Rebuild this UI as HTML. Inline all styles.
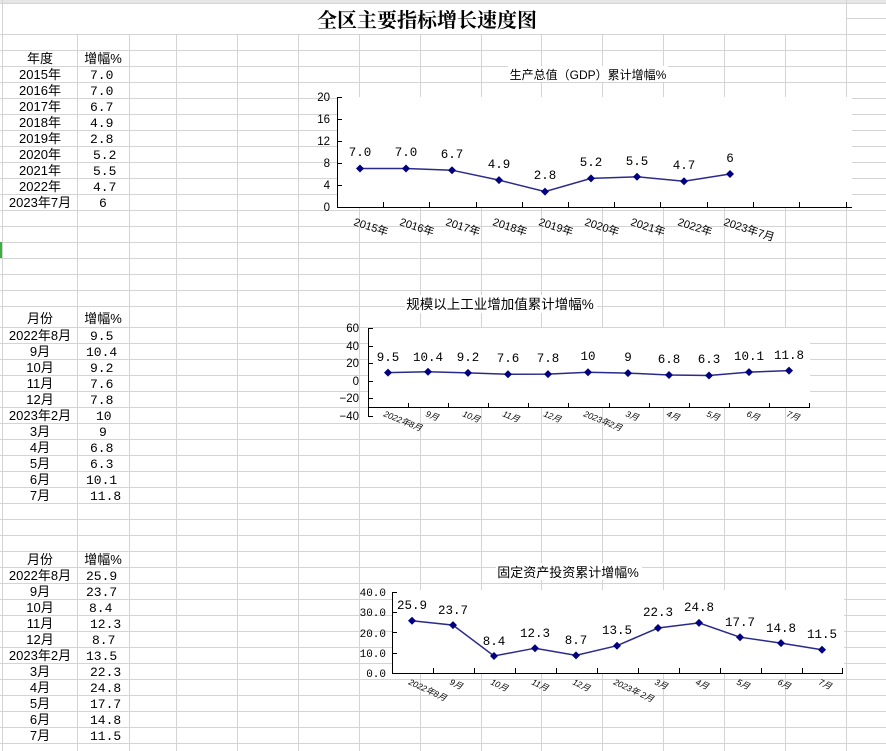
<!DOCTYPE html>
<html><head><meta charset="utf-8"><style>
html,body{margin:0;padding:0;background:#fff;}
svg{display:block;}
.t{font-family:"Liberation Sans","Noto Sans CJK SC",sans-serif;font-size:13px;fill:#000;}
.m{font-family:"Liberation Mono","Noto Sans CJK SC",monospace;font-size:13px;fill:#000;}
.dl{font-family:"Liberation Mono","Noto Sans CJK SC",monospace;font-size:12.5px;fill:#000;}
.ax{font-family:"Liberation Sans",sans-serif;font-size:11.5px;fill:#000;}
.axm{font-family:"Liberation Mono",monospace;font-size:11px;fill:#000;}
.xl{font-family:"Liberation Sans","Noto Sans CJK SC",sans-serif;font-size:11px;fill:#000;}
.xs{font-family:"Liberation Sans","Noto Sans CJK SC",sans-serif;font-size:8.5px;font-style:italic;fill:#000;}
.ct{font-family:"Liberation Sans","Noto Sans CJK SC",sans-serif;fill:#000;}
</style></head><body>
<svg width="886" height="751" viewBox="0 0 886 751" xmlns="http://www.w3.org/2000/svg">
<rect width="886" height="751" fill="#fff"/>
<!-- header strip -->
<rect x="0" y="0" width="886" height="3" fill="#e6e6e6"/>
<g stroke="#d4d4d4" stroke-width="1" shape-rendering="crispEdges">
<!-- vertical gridlines (not through title row) -->
<line x1="2.5" y1="0" x2="2.5" y2="751"/>
<line x1="77.5" y1="34" x2="77.5" y2="751"/>
<line x1="129.5" y1="34" x2="129.5" y2="751"/>
<line x1="176.5" y1="34" x2="176.5" y2="751"/>
<line x1="237.5" y1="34" x2="237.5" y2="751"/>
<line x1="298.5" y1="34" x2="298.5" y2="751"/>
<line x1="359.5" y1="34" x2="359.5" y2="751"/>
<line x1="420.5" y1="34" x2="420.5" y2="751"/>
<line x1="481.5" y1="34" x2="481.5" y2="751"/>
<line x1="541.5" y1="34" x2="541.5" y2="751"/>
<line x1="602.5" y1="34" x2="602.5" y2="751"/>
<line x1="663.5" y1="34" x2="663.5" y2="751"/>
<line x1="724.5" y1="34" x2="724.5" y2="751"/>
<line x1="785.5" y1="34" x2="785.5" y2="751"/>
<line x1="846.5" y1="0" x2="846.5" y2="751"/>
<line x1="846" y1="18.5" x2="886" y2="18.5"/>
<!-- horizontal gridlines -->
<line x1="0" y1="3.5" x2="886" y2="3.5"/>
<line x1="0" y1="34.5" x2="886" y2="34.5"/>
<line x1="0" y1="50.5" x2="886" y2="50.5"/><line x1="0" y1="66.5" x2="886" y2="66.5"/>
<line x1="0" y1="82.5" x2="886" y2="82.5"/><line x1="0" y1="98.5" x2="886" y2="98.5"/>
<line x1="0" y1="114.5" x2="886" y2="114.5"/><line x1="0" y1="130.5" x2="886" y2="130.5"/>
<line x1="0" y1="146.5" x2="886" y2="146.5"/><line x1="0" y1="162.5" x2="886" y2="162.5"/>
<line x1="0" y1="178.5" x2="886" y2="178.5"/><line x1="0" y1="194.5" x2="886" y2="194.5"/>
<line x1="0" y1="210.5" x2="886" y2="210.5"/><line x1="0" y1="226.5" x2="886" y2="226.5"/>
<line x1="0" y1="242.5" x2="886" y2="242.5"/><line x1="0" y1="258.5" x2="886" y2="258.5"/>
<line x1="0" y1="274.5" x2="886" y2="274.5"/><line x1="0" y1="290.5" x2="886" y2="290.5"/>
<line x1="0" y1="306.5" x2="886" y2="306.5"/><line x1="0" y1="327.5" x2="886" y2="327.5"/>
<line x1="0" y1="343.5" x2="886" y2="343.5"/><line x1="0" y1="359.5" x2="886" y2="359.5"/>
<line x1="0" y1="375.5" x2="886" y2="375.5"/><line x1="0" y1="391.5" x2="886" y2="391.5"/>
<line x1="0" y1="407.5" x2="886" y2="407.5"/><line x1="0" y1="423.5" x2="886" y2="423.5"/>
<line x1="0" y1="439.5" x2="886" y2="439.5"/><line x1="0" y1="455.5" x2="886" y2="455.5"/>
<line x1="0" y1="471.5" x2="886" y2="471.5"/><line x1="0" y1="487.5" x2="886" y2="487.5"/>
<line x1="0" y1="503.5" x2="886" y2="503.5"/><line x1="0" y1="519.5" x2="886" y2="519.5"/>
<line x1="0" y1="535.5" x2="886" y2="535.5"/><line x1="0" y1="551.5" x2="886" y2="551.5"/>
<line x1="0" y1="567.5" x2="886" y2="567.5"/><line x1="0" y1="583.5" x2="886" y2="583.5"/>
<line x1="0" y1="599.5" x2="886" y2="599.5"/><line x1="0" y1="615.5" x2="886" y2="615.5"/>
<line x1="0" y1="631.5" x2="886" y2="631.5"/><line x1="0" y1="647.5" x2="886" y2="647.5"/>
<line x1="0" y1="663.5" x2="886" y2="663.5"/><line x1="0" y1="679.5" x2="886" y2="679.5"/>
<line x1="0" y1="695.5" x2="886" y2="695.5"/><line x1="0" y1="711.5" x2="886" y2="711.5"/>
<line x1="0" y1="727.5" x2="886" y2="727.5"/><line x1="0" y1="743.5" x2="886" y2="743.5"/>
</g>
<rect x="0" y="242" width="2" height="16" fill="#3fae3f"/>
<!-- main title -->
<text x="427" y="27" text-anchor="middle" style="font-family:'Noto Serif CJK SC','Liberation Serif',serif;font-size:20px;font-weight:bold;">全区主要指标增长速度图</text>

<!-- table 1 -->
<g class="t" text-anchor="middle">
<text x="40" y="63">年度</text><text x="103" y="63">增幅%</text>
<text x="40" y="79">2015年</text><text x="40" y="95">2016年</text><text x="40" y="111">2017年</text>
<text x="40" y="127">2018年</text><text x="40" y="143">2019年</text><text x="40" y="159">2020年</text>
<text x="40" y="175">2021年</text><text x="40" y="191">2022年</text><text x="40" y="207">2023年7月</text>
</g>
<g class="m">
<text x="90" y="79">7.0</text><text x="90" y="95">7.0</text><text x="90" y="111">6.7</text>
<text x="90" y="127">4.9</text><text x="90" y="143">2.8</text><text x="93" y="159">5.2</text>
<text x="93" y="175">5.5</text><text x="93" y="191">4.7</text><text x="99" y="207">6</text>
</g>
<!-- table 2 -->
<g class="t" text-anchor="middle">
<text x="40" y="323">月份</text><text x="103" y="323">增幅%</text>
<text x="40" y="340">2022年8月</text><text x="40" y="356">9月</text><text x="40" y="372">10月</text>
<text x="40" y="388">11月</text><text x="40" y="404">12月</text><text x="40" y="420">2023年2月</text>
<text x="40" y="436">3月</text><text x="40" y="452">4月</text><text x="40" y="468">5月</text>
<text x="40" y="484">6月</text><text x="40" y="500">7月</text>
</g>
<g class="m">
<text x="90" y="340">9.5</text><text x="86" y="356">10.4</text><text x="90" y="372">9.2</text>
<text x="90" y="388">7.6</text><text x="90" y="404">7.8</text><text x="96" y="420">10</text>
<text x="99" y="436">9</text><text x="90" y="452">6.8</text><text x="90" y="468">6.3</text>
<text x="86" y="484">10.1</text><text x="90" y="500">11.8</text>
</g>
<!-- table 3 -->
<g class="t" text-anchor="middle">
<text x="40" y="564">月份</text><text x="103" y="564">增幅%</text>
<text x="40" y="580">2022年8月</text><text x="40" y="596">9月</text><text x="40" y="612">10月</text>
<text x="40" y="628">11月</text><text x="40" y="644">12月</text><text x="40" y="660">2023年2月</text>
<text x="40" y="676">3月</text><text x="40" y="692">4月</text><text x="40" y="708">5月</text>
<text x="40" y="724">6月</text><text x="40" y="740">7月</text>
</g>
<g class="m">
<text x="86" y="580">25.9</text><text x="86" y="596">23.7</text><text x="89" y="612">8.4</text>
<text x="90" y="628">12.3</text><text x="92" y="644">8.7</text><text x="86" y="660">13.5</text>
<text x="90" y="676">22.3</text><text x="90" y="692">24.8</text><text x="90" y="708">17.7</text>
<text x="90" y="724">14.8</text><text x="90" y="740">11.5</text>
</g>

<!-- ===== Chart 1 ===== -->
<rect x="337" y="97" width="515" height="110" fill="#fff"/>
<rect x="508" y="66" width="160" height="16" fill="#fff"/>
<text class="ct" x="588" y="79" text-anchor="middle" font-size="12">生产总值（GDP）累计增幅%</text>
<g stroke="#000" stroke-width="1.2" shape-rendering="crispEdges">
<line x1="337.5" y1="97" x2="337.5" y2="207"/>
<line x1="337" y1="207.5" x2="852" y2="207.5"/>
<line x1="337" y1="97.5" x2="342" y2="97.5"/><line x1="337" y1="119.5" x2="342" y2="119.5"/>
<line x1="337" y1="141.5" x2="342" y2="141.5"/><line x1="337" y1="163.5" x2="342" y2="163.5"/>
<line x1="337" y1="185.5" x2="342" y2="185.5"/>
<line x1="383.5" y1="202" x2="383.5" y2="207"/><line x1="429.5" y1="202" x2="429.5" y2="207"/>
<line x1="476.5" y1="202" x2="476.5" y2="207"/><line x1="522.5" y1="202" x2="522.5" y2="207"/>
<line x1="568.5" y1="202" x2="568.5" y2="207"/><line x1="614.5" y1="202" x2="614.5" y2="207"/>
<line x1="660.5" y1="202" x2="660.5" y2="207"/><line x1="707.5" y1="202" x2="707.5" y2="207"/>
<line x1="753.5" y1="202" x2="753.5" y2="207"/><line x1="799.5" y1="202" x2="799.5" y2="207"/>
<line x1="846.5" y1="202" x2="846.5" y2="207"/>
</g>
<g class="ax" text-anchor="end">
<text x="330" y="101">20</text><text x="330" y="123">16</text><text x="330" y="145">12</text>
<text x="330" y="167">8</text><text x="330" y="189">4</text><text x="330" y="211">0</text>
</g>
<polyline fill="none" stroke="#2a2a8c" stroke-width="1.5" points="360,168.5 406,168.5 452,170.2 499,180.1 545,191.6 591,178.4 637,176.8 684,181.2 730,174"/>
<g fill="#000080">
<path d="M360 164.5l4 4-4 4-4-4z"/><path d="M406 164.5l4 4-4 4-4-4z"/><path d="M452 166.2l4 4-4 4-4-4z"/>
<path d="M499 176.1l4 4-4 4-4-4z"/><path d="M545 187.6l4 4-4 4-4-4z"/><path d="M591 174.4l4 4-4 4-4-4z"/>
<path d="M637 172.8l4 4-4 4-4-4z"/><path d="M684 177.2l4 4-4 4-4-4z"/><path d="M730 170l4 4-4 4-4-4z"/>
</g>
<g class="dl" text-anchor="middle">
<text x="360" y="156">7.0</text><text x="406" y="156">7.0</text><text x="452" y="158">6.7</text>
<text x="499" y="168">4.9</text><text x="545" y="179">2.8</text><text x="591" y="166">5.2</text>
<text x="637" y="165">5.5</text><text x="684" y="169">4.7</text><text x="730" y="162">6</text>
</g>
<g class="xl">
<text transform="translate(353,225) rotate(18)">2015年</text>
<text transform="translate(399,225) rotate(18)">2016年</text>
<text transform="translate(445,225) rotate(18)">2017年</text>
<text transform="translate(492,225) rotate(18)">2018年</text>
<text transform="translate(538,225) rotate(18)">2019年</text>
<text transform="translate(584,225) rotate(18)">2020年</text>
<text transform="translate(630,225) rotate(18)">2021年</text>
<text transform="translate(677,225) rotate(18)">2022年</text>
<text transform="translate(723,225) rotate(18)">2023年7月</text>
</g>

<!-- ===== Chart 2 ===== -->
<rect x="368" y="328" width="442" height="79" fill="#fff"/>
<rect x="405" y="295" width="192" height="18" fill="#fff"/>
<text class="ct" x="500" y="309" text-anchor="middle" font-size="13.5">规模以上工业增加值累计增幅%</text>
<g stroke="#000" stroke-width="1.2" shape-rendering="crispEdges">
<line x1="368.5" y1="328" x2="368.5" y2="416"/>
<line x1="368" y1="407.5" x2="810" y2="407.5"/>
<line x1="368" y1="328.5" x2="373" y2="328.5"/><line x1="368" y1="346.5" x2="373" y2="346.5"/>
<line x1="368" y1="363.5" x2="373" y2="363.5"/><line x1="368" y1="381.5" x2="373" y2="381.5"/>
<line x1="368" y1="398.5" x2="373" y2="398.5"/><line x1="368" y1="416.5" x2="373" y2="416.5"/>
<line x1="408.5" y1="403" x2="408.5" y2="407"/><line x1="448.5" y1="403" x2="448.5" y2="407"/>
<line x1="488.5" y1="403" x2="488.5" y2="407"/><line x1="528.5" y1="403" x2="528.5" y2="407"/>
<line x1="568.5" y1="403" x2="568.5" y2="407"/><line x1="609.5" y1="403" x2="609.5" y2="407"/>
<line x1="649.5" y1="403" x2="649.5" y2="407"/><line x1="689.5" y1="403" x2="689.5" y2="407"/>
<line x1="729.5" y1="403" x2="729.5" y2="407"/><line x1="769.5" y1="403" x2="769.5" y2="407"/>
<line x1="809.5" y1="403" x2="809.5" y2="407"/>
</g>
<g class="ax" text-anchor="end">
<text x="359" y="332">60</text><text x="359" y="350">40</text><text x="359" y="367">20</text>
<text x="359" y="385">0</text><text x="359" y="402">−20</text><text x="359" y="420">−40</text>
</g>
<polyline fill="none" stroke="#2a2a8c" stroke-width="1.5" points="388,372.6 428,371.8 468,372.9 508,374.3 548,374.1 588,372.2 628,373.1 669,375 709,375.5 749,372.1 789,370.6"/>
<g fill="#000080">
<path d="M388 368.6l4 4-4 4-4-4z"/><path d="M428 367.8l4 4-4 4-4-4z"/><path d="M468 368.9l4 4-4 4-4-4z"/>
<path d="M508 370.3l4 4-4 4-4-4z"/><path d="M548 370.1l4 4-4 4-4-4z"/><path d="M588 368.2l4 4-4 4-4-4z"/>
<path d="M628 369.1l4 4-4 4-4-4z"/><path d="M669 371l4 4-4 4-4-4z"/><path d="M709 371.5l4 4-4 4-4-4z"/>
<path d="M749 368.1l4 4-4 4-4-4z"/><path d="M789 366.6l4 4-4 4-4-4z"/>
</g>
<g class="dl" text-anchor="middle">
<text x="388" y="361">9.5</text><text x="428" y="361">10.4</text><text x="468" y="361">9.2</text>
<text x="508" y="362">7.6</text><text x="548" y="362">7.8</text><text x="588" y="360">10</text>
<text x="628" y="361">9</text><text x="669" y="363">6.8</text><text x="709" y="363">6.3</text>
<text x="749" y="360">10.1</text><text x="789" y="359">11.8</text>
</g>
<g class="xs">
<text transform="translate(383,416) rotate(22)">2022年8月</text>
<text transform="translate(425,416) rotate(22)">9月</text>
<text transform="translate(462,416) rotate(22)">10月</text>
<text transform="translate(502,416) rotate(22)">11月</text>
<text transform="translate(543,416) rotate(22)">12月</text>
<text transform="translate(583,416) rotate(22)">2023年2月</text>
<text transform="translate(625,416) rotate(22)">3月</text>
<text transform="translate(666,416) rotate(22)">4月</text>
<text transform="translate(706,416) rotate(22)">5月</text>
<text transform="translate(746,416) rotate(22)">6月</text>
<text transform="translate(786,416) rotate(22)">7月</text>
</g>

<!-- ===== Chart 3 ===== -->
<rect x="392" y="590" width="452" height="83" fill="#fff"/>
<rect x="496" y="563" width="146" height="17" fill="#fff"/>
<text class="ct" x="568" y="577" text-anchor="middle" font-size="13">固定资产投资累计增幅%</text>
<g stroke="#000" stroke-width="1.2" shape-rendering="crispEdges">
<line x1="392.5" y1="592" x2="392.5" y2="673"/>
<line x1="392" y1="673.5" x2="843" y2="673.5"/>
<line x1="392" y1="592.5" x2="397" y2="592.5"/><line x1="392" y1="612.5" x2="397" y2="612.5"/>
<line x1="392" y1="632.5" x2="397" y2="632.5"/><line x1="392" y1="653.5" x2="397" y2="653.5"/>
<line x1="433.5" y1="668" x2="433.5" y2="673"/><line x1="474.5" y1="668" x2="474.5" y2="673"/>
<line x1="515.5" y1="668" x2="515.5" y2="673"/><line x1="556.5" y1="668" x2="556.5" y2="673"/>
<line x1="597.5" y1="668" x2="597.5" y2="673"/><line x1="638.5" y1="668" x2="638.5" y2="673"/>
<line x1="679.5" y1="668" x2="679.5" y2="673"/><line x1="720.5" y1="668" x2="720.5" y2="673"/>
<line x1="761.5" y1="668" x2="761.5" y2="673"/><line x1="802.5" y1="668" x2="802.5" y2="673"/>
<line x1="842.5" y1="668" x2="842.5" y2="673"/>
</g>
<g class="axm" text-anchor="end">
<text x="386" y="596">40.0</text><text x="386" y="616">30.0</text><text x="386" y="637">20.0</text>
<text x="386" y="657">10.0</text><text x="386" y="677">0.0</text>
</g>
<polyline fill="none" stroke="#2a2a8c" stroke-width="1.5" points="412,620.7 453,625.1 494,656 535,648.2 576,655.4 617,645.7 658,628 699,622.9 740,637.2 781,643.1 822,649.8"/>
<g fill="#000080">
<path d="M412 616.7l4 4-4 4-4-4z"/><path d="M453 621.1l4 4-4 4-4-4z"/><path d="M494 652l4 4-4 4-4-4z"/>
<path d="M535 644.2l4 4-4 4-4-4z"/><path d="M576 651.4l4 4-4 4-4-4z"/><path d="M617 641.7l4 4-4 4-4-4z"/>
<path d="M658 624l4 4-4 4-4-4z"/><path d="M699 618.9l4 4-4 4-4-4z"/><path d="M740 633.2l4 4-4 4-4-4z"/>
<path d="M781 639.1l4 4-4 4-4-4z"/><path d="M822 645.8l4 4-4 4-4-4z"/>
</g>
<g class="dl" text-anchor="middle">
<text x="412" y="609">25.9</text><text x="453" y="614">23.7</text><text x="494" y="645">8.4</text>
<text x="535" y="637">12.3</text><text x="576" y="644">8.7</text><text x="617" y="634">13.5</text>
<text x="658" y="616">22.3</text><text x="699" y="611">24.8</text><text x="740" y="626">17.7</text>
<text x="781" y="632">14.8</text><text x="822" y="638">11.5</text>
</g>
<g class="xs">
<text transform="translate(408,684) rotate(25)">2022年8月</text>
<text transform="translate(449,684) rotate(25)">9月</text>
<text transform="translate(490,684) rotate(25)">10月</text>
<text transform="translate(531,684) rotate(25)">11月</text>
<text transform="translate(572,684) rotate(25)">12月</text>
<text transform="translate(613,684) rotate(25)">2023年 2月</text>
<text transform="translate(654,684) rotate(25)">3月</text>
<text transform="translate(695,684) rotate(25)">4月</text>
<text transform="translate(736,684) rotate(25)">5月</text>
<text transform="translate(777,684) rotate(25)">6月</text>
<text transform="translate(818,684) rotate(25)">7月</text>
</g>
</svg>
</body></html>
